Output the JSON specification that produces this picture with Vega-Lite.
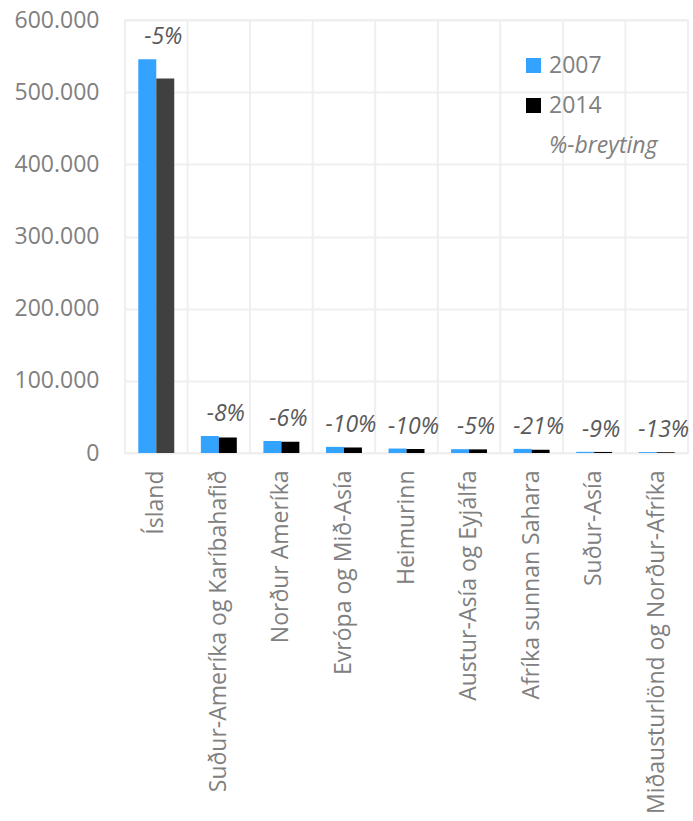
{
  "$schema": "https://vega.github.io/schema/vega-lite/v6.json",
  "width": 563,
  "height": 433,
  "autosize": "none",
  "padding": {"left": 125, "top": 20, "right": 5, "bottom": 368},
  "background": "white",
  "config": {
    "font": "Open Sans",
    "view": {"stroke": "#EFEFEF", "strokeWidth": 2}
  },
  "data": {
    "values": [
      {"region": "Ísland", "2007": 545700, "2014": 519000, "change": "-5%"},
      {"region": "Suður-Ameríka og Karíbahafið", "2007": 23500, "2014": 21600, "change": "-8%"},
      {"region": "Norður Ameríka", "2007": 16600, "2014": 15600, "change": "-6%"},
      {"region": "Evrópa og Mið-Asía", "2007": 8500, "2014": 7650, "change": "-10%"},
      {"region": "Heimurinn", "2007": 6200, "2014": 5580, "change": "-10%"},
      {"region": "Austur-Asía og Eyjálfa", "2007": 5300, "2014": 5035, "change": "-5%"},
      {"region": "Afríka sunnan Sahara", "2007": 5700, "2014": 4500, "change": "-21%"},
      {"region": "Suður-Asía", "2007": 1600, "2014": 1460, "change": "-9%"},
      {"region": "Miðausturlönd og Norður-Afríka", "2007": 1200, "2014": 1045, "change": "-13%"}
    ]
  },
  "encoding": {
    "x": {
      "field": "region",
      "type": "nominal",
      "sort": ["Ísland", "Suður-Ameríka og Karíbahafið", "Norður Ameríka", "Evrópa og Mið-Asía", "Heimurinn", "Austur-Asía og Eyjálfa", "Afríka sunnan Sahara", "Suður-Asía", "Miðausturlönd og Norður-Afríka"],
      "scale": {"paddingInner": 0, "paddingOuter": 0},
      "axis": {"title": null, "labelAngle": -90, "labelFontSize": 23, "labelColor": "#808080", "labelPadding": 17, "labelLimit": 500, "ticks": false, "domain": false, "grid": false}
    }
  },
  "layer": [
    {
      "mark": {"type": "rule", "color": "#EFEFEF", "strokeWidth": 2},
      "encoding": {"x": {"field": "region", "type": "nominal", "bandPosition": 0, "sort": ["Ísland", "Suður-Ameríka og Karíbahafið", "Norður Ameríka", "Evrópa og Mið-Asía", "Heimurinn", "Austur-Asía og Eyjálfa", "Afríka sunnan Sahara", "Suður-Asía", "Miðausturlönd og Norður-Afríka"]}}
    },
    {
      "transform": [{"fold": ["2007", "2014"], "as": ["year", "value"]}],
      "mark": {"type": "bar"},
      "encoding": {
        "y": {
          "field": "value",
          "type": "quantitative",
          "scale": {"domain": [0, 600000]},
          "axis": {"title": null, "values": [0, 100000, 200000, 300000, 400000, 500000, 600000], "labelExpr": "replace(format(datum.value, ','), ',', '.')", "labelFontSize": 23, "labelColor": "#808080", "labelPadding": 26, "ticks": false, "domain": false, "gridColor": "#EFEFEF", "gridWidth": 2}
        },
        "xOffset": {"field": "year", "type": "nominal", "scale": {"paddingInner": 0, "paddingOuter": 0.74}},
        "color": {
          "field": "year",
          "type": "nominal",
          "condition": {"test": "datum.region === 'Ísland' && datum.year === '2014'", "value": "#404040"},
          "scale": {"domain": ["2007", "2014", "%-breyting"], "range": ["#33A3FF", "#000000", "rgba(0,0,0,0)"]},
          "legend": {
            "title": null,
            "orient": "none",
            "legendX": 397,
            "legendY": 34,
            "padding": 0,
            "symbolType": "square",
            "symbolSize": 225,
            "symbolStrokeWidth": 0,
            "labelFontSize": 23,
            "labelColor": "#808080",
            "labelOffset": 4,
            "rowPadding": 16,
            "encode": {"labels": {"update": {"fontStyle": {"signal": "datum.label === '%-breyting' ? 'italic' : 'normal'"}}}}
          }
        }
      }
    },
    {
      "mark": {"type": "rule", "color": "#FF8000", "strokeWidth": 5},
      "encoding": {"y": {"datum": 0, "type": "quantitative"}}
    },
    {
      "mark": {"type": "text", "fontStyle": "italic", "fontSize": 23, "color": "#595959", "dy": -22, "dx": 7, "baseline": "middle"},
      "encoding": {
        "y": {"field": "2007", "type": "quantitative"},
        "text": {"field": "change", "type": "nominal"}
      }
    }
  ]
}
